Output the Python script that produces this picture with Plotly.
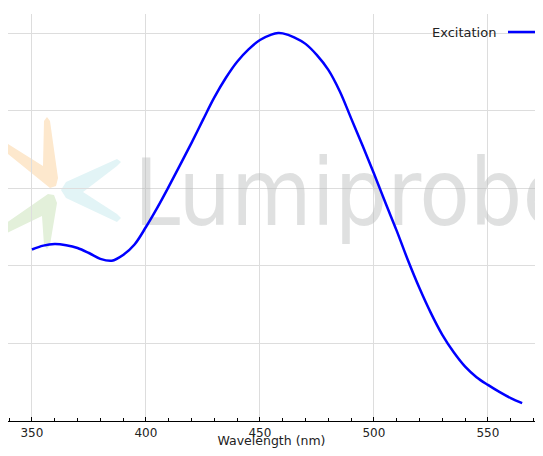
import plotly.graph_objects as go

wavelength = [350, 355, 360, 365, 370, 375, 380, 385, 390, 395, 400, 405, 410, 415,
              420, 425, 430, 435, 440, 445, 450, 455, 458, 460, 465, 470, 475, 480,
              485, 490, 495, 500, 505, 510, 515, 520, 525, 530, 535, 540, 545, 550,
              555, 560, 565]
excitation = [0.442, 0.452, 0.456, 0.453, 0.446, 0.433, 0.418, 0.413, 0.428, 0.455,
              0.500, 0.550, 0.604, 0.660, 0.717, 0.776, 0.834, 0.884, 0.926, 0.958,
              0.982, 0.996, 1.000, 0.999, 0.989, 0.972, 0.943, 0.905, 0.850, 0.780,
              0.710, 0.638, 0.563, 0.490, 0.413, 0.342, 0.278, 0.222, 0.177, 0.140,
              0.113, 0.093, 0.075, 0.059, 0.046]
x_ticks = [350, 400, 450, 500, 550]
series_name = "Excitation"
x_title = "Wavelength (nm)"
watermark = "Lumiprobe"
line_color = "#0000ff"

# page has an 8px body margin; keep the figure fully inside the 543x456 window
W, H = 527, 440
L, R, T, B = 0, 0, 6, 27
PW, PH = W - L - R, H - T - B
OFF = 8


def px2paper(pts):
    # page pixel coords -> paper coords
    return [((x - OFF - L) / PW, (OFF + H - B - y) / PH) for x, y in pts]


def path_from(pts):
    p = px2paper(pts)
    s = "M %.4f %.4f " % p[0]
    for q in p[1:]:
        s += "L %.4f %.4f " % q
    return s + "Z"


orange = [(44, 121), (47, 117), (50, 121), (58, 178), (56, 186), (50, 188),
          (3, 150), (0, 146), (3, 141), (43, 166)]
cyan = [(83, 192), (117, 166), (121, 162), (117, 159), (66, 182), (61, 190),
        (66, 198), (117, 222), (121, 218), (117, 214)]
green = [(42, 216), (44, 245), (47, 249), (50, 245), (57, 203), (54, 195),
         (48, 194), (2, 226), (-1, 231), (3, 235)]

shapes = []
for pts, col in [(orange, "#fde8cd"), (cyan, "#e2f4f6"), (green, "#e3f0da")]:
    shapes.append(dict(type="path", xref="paper", yref="paper", path=path_from(pts),
                       fillcolor=col, line=dict(width=0), layer="below"))

# legend (text left of the line sample, as in the reference)
(lx0, ly), (lx1, _) = px2paper([(508, 32), (537, 32)])
shapes.append(dict(type="line", xref="paper", yref="paper", x0=lx0, x1=lx1, y0=ly, y1=ly,
                   line=dict(color=line_color, width=2.5)))
(ax, ay), = px2paper([(498, 32)])
annotations = [dict(text=series_name, xref="paper", yref="paper", x=ax, y=ay,
                    xanchor="right", yanchor="middle", showarrow=False,
                    font=dict(size=13, color="#222222"))]

fig = go.Figure()
fig.add_trace(go.Scatter(
    x=[394.8], y=[0.565], mode="text", text=[watermark], textposition="middle right",
    textfont=dict(family="DejaVu Sans Condensed, Roboto",
                  size=92, color="rgba(185,187,187,0.45)"),
    showlegend=False, hoverinfo="skip"))
fig.add_trace(go.Scatter(
    x=wavelength, y=excitation, mode="lines", name=series_name,
    line=dict(color=line_color, width=2.5, shape="spline"), showlegend=False))

fig.update_layout(
    width=W, height=H,
    margin=dict(l=L, r=R, t=T, b=B),
    paper_bgcolor="white", plot_bgcolor="white",
    font=dict(family="DejaVu Sans", size=12, color="#222222"),
    shapes=shapes,
    annotations=annotations,
    showlegend=False,
    xaxis=dict(range=[339.5, 339.5 + PW / 2.28], tickvals=x_ticks, showgrid=True,
               gridcolor="#dddddd", gridwidth=1, showline=True, linecolor="black",
               linewidth=1.2, ticks="inside", ticklen=4, tickcolor="black",
               minor=dict(dtick=10, ticks="inside", ticklen=2.5, tickcolor="black",
                          showgrid=False),
               zeroline=False, tickfont=dict(size=12),
               title=dict(text=x_title, font=dict(size=12.5), standoff=7),
               automargin=False),
    yaxis=dict(range=[0, 1.049], dtick=0.2, showgrid=True, gridcolor="#dddddd",
               gridwidth=1, showticklabels=False, ticks="", zeroline=False,
               showline=False, automargin=False),
)

fig.write_html("out.html")
